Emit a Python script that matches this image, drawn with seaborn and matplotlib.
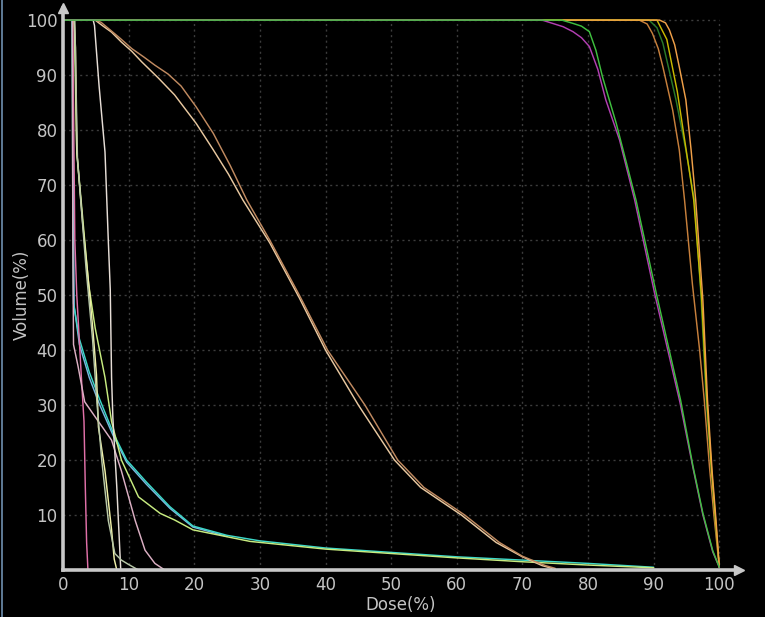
import numpy as np
import pandas as pd
import matplotlib
matplotlib.use("Agg")
import matplotlib.pyplot as plt
from matplotlib.lines import Line2D
import seaborn as sns

# Cumulative dose-volume histogram: dose (% of prescription) vs volume (%)
brown_dose = [0, 4.9, 5.8, 6.9, 8.6, 10.5, 12.3, 14, 16, 18, 20.3, 22.9, 25.5, 28, 31.5, 36, 40.3, 46, 51, 55, 61.2, 66.5, 70, 73.5, 75]
brown_vol = [100, 100, 99.6, 98.5, 96.8, 94.8, 93.3, 91.8, 90.2, 88, 84.2, 79.4, 73.5, 67.3, 60, 50, 40, 30, 20, 15, 10, 5, 2.5, 0.8, 0.3]

tan_dose = [0, 4.9, 6, 7.4, 8.9, 10.5, 12, 14.5, 17, 20.3, 22.9, 25.2, 27.4, 31.5, 36, 40, 45, 50.5, 54.5, 60.7, 66, 70, 73, 74.5]
tan_vol = [100, 100, 99, 97.8, 96, 94.3, 92.4, 89.5, 86.4, 81.2, 76.4, 72, 67.3, 59.5, 49.5, 40, 30, 20, 15, 10, 5, 2.4, 0.8, 0.3]

green_dose = [0, 76, 77.7, 79, 80.2, 81.2, 82.2, 84.3, 87.3, 90.4, 94.1, 96, 97.5, 99, 100]
green_vol = [100, 100, 99.4, 98.9, 97.9, 94.5, 89.7, 81.2, 67.3, 50.3, 30.9, 18.8, 10.3, 3.5, 0.5]

magenta_dose = [0, 73, 74.6, 76.2, 77.7, 79, 80.2, 81.5, 82.7, 84.8, 87.1, 90.2, 94, 96, 97.5, 99, 100]
magenta_vol = [100, 100, 99.4, 98.8, 97.9, 96.8, 95.2, 91, 85.5, 78.2, 67.3, 50, 30.5, 18.5, 10, 3.3, 0.5]

orange1_dose = [0, 87.8, 89, 89.8, 90.7, 91.4, 92.9, 93.9, 94.7, 95.9, 97, 97.7, 98.5, 99.2, 100]
orange1_vol = [100, 100, 99.3, 97.6, 94.8, 91.5, 83.6, 76.4, 67.3, 52, 40, 31, 18.8, 9.7, 0.5]

dkgreen_dose = [0, 89.3, 90.5, 91.4, 93.4, 94.9, 96.2, 97.2, 98, 98.8, 99.4, 100]
dkgreen_vol = [100, 100, 98.6, 95.8, 85.5, 76.4, 67.3, 50, 31, 18, 9, 0.5]

orange2_dose = [0, 90.9, 91.8, 92.4, 93.2, 93.9, 94.9, 95.7, 96.4, 97.5, 98.2, 98.9, 99.5, 100]
orange2_vol = [100, 100, 99.5, 98.2, 95.5, 91.5, 85.5, 76.4, 67.3, 49, 30.9, 18, 9, 0.5]

yellow_dose = [0, 90.5, 92, 93.6, 95, 96.1, 97.3, 98.1, 98.8, 99.4, 100]
yellow_vol = [100, 100, 96.5, 87, 76, 67.3, 49.5, 31, 18.5, 9.5, 0.5]

cyan_dose = [0, 1.4, 1.5, 1.6, 2.5, 4, 5.6, 7.7, 9.7, 12.7, 16.3, 19.8, 25, 30, 40, 50, 60, 70, 80, 90]
cyan_vol = [100, 100, 62, 48.5, 42, 36, 31, 24.8, 20, 16, 11.5, 8, 6.3, 5.3, 4, 3.2, 2.4, 1.8, 1.2, 0.5]

ltblue_dose = [0, 1.4, 1.6, 1.7, 2.5, 4, 5.6, 7.7, 9.7, 12.7, 16.3, 19.8, 25]
ltblue_vol = [100, 100, 62, 48, 41, 35, 30, 24.3, 19.6, 15.6, 11.2, 7.8, 6.1]

ygreen_dose = [0, 1.7, 2.1, 3.9, 4.9, 6.4, 7.4, 8.9, 11.5, 14.8, 17, 19.8, 28.5, 40, 50, 60, 70, 80, 90]
ygreen_vol = [100, 100, 76, 52, 44, 35, 27, 20, 13.3, 10.3, 9.1, 7.3, 5.2, 3.8, 3, 2.2, 1.5, 0.9, 0.4]

pink_dose = [0, 1.5, 1.6, 1.8, 2.1, 2.8, 3.2, 3.4, 3.6, 3.8]
pink_vol = [100, 100, 85, 60, 50, 35, 27, 15, 5, 0]

mauve_dose = [0, 1.4, 1.5, 1.6, 2.3, 3.3, 5.4, 6, 7.4, 8.9, 11, 12.5, 14, 15.5]
mauve_vol = [100, 100, 60, 41, 37, 30.6, 27, 26, 23.6, 18, 9, 3.6, 1.2, 0]

white_dose = [0, 4.6, 4.8, 5.5, 6.4, 6.9, 7.2, 7.4, 7.6, 8.2, 8.6, 8.8]
white_vol = [100, 100, 99, 88, 76, 60, 51, 35, 27.6, 15, 5, 0]

paleyel_dose = [0, 1.7, 1.9, 2.1, 3, 4, 4.6, 5.1, 5.4, 6.4, 7.4, 7.8, 8.2]
paleyel_vol = [100, 100, 95, 76, 63, 51, 43, 35.5, 26, 18, 7.3, 2, 0]

graygrn_dose = [0, 1.8, 2.2, 3.5, 4.5, 5.2, 5.9, 6.9, 7.9, 8.9, 10, 11.5]
graygrn_vol = [100, 100, 75, 55, 42, 30, 20, 9, 3, 1.8, 1, 0]

# drawing order: later entries lie on top
curves = {
    "GTV": (orange1_dose, orange1_vol, "#c8803c"),
    "CTV": (dkgreen_dose, dkgreen_vol, "#2a7a2a"),
    "PTV2": (yellow_dose, yellow_vol, "#c8b800"),
    "PTV3": (orange2_dose, orange2_vol, "#f0a048"),
    "Cord PRV": (ltblue_dose, ltblue_vol, "#78b8e0"),
    "Cord": (cyan_dose, cyan_vol, "#3cd8c8"),
    "Heart": (ygreen_dose, ygreen_vol, "#c8ec80"),
    "Esophagus": (pink_dose, pink_vol, "#e070a8"),
    "Liver": (mauve_dose, mauve_vol, "#dcb0c4"),
    "Trachea": (white_dose, white_vol, "#e6ddd6"),
    "Stomach": (paleyel_dose, paleyel_vol, "#f0f0a8"),
    "Brachial": (graygrn_dose, graygrn_vol, "#b8c8a8"),
    "Lung R": (tan_dose, tan_vol, "#e8c8a0"),
    "Lung L": (brown_dose, brown_vol, "#c08a60"),
    "PTV1": (magenta_dose, magenta_vol, "#b23fb2"),
    "Body": (green_dose, green_vol, "#3fbf3f"),
}

frames = []
for name, (d, v, _) in curves.items():
    frames.append(pd.DataFrame({"dose": d, "volume": v, "structure": name}))
df = pd.concat(frames, ignore_index=True)
palette = {name: c for name, (_, _, c) in curves.items()}

sns.set_theme(style="dark")
plt.rcParams["font.family"] = ["DejaVu Sans"]

fig = plt.figure(figsize=(7.65, 6.17), dpi=100, facecolor="black")
ax = fig.add_axes([63 / 765, 47 / 617, 676 / 765, 562 / 617])
ax.set_facecolor("black")

ax.set_xlim(0, 103)
ax.set_ylim(0, 102.2)

# dotted grid limited to the 0-100 frame
grid_kw = dict(color="#3c3c3c", linestyle=(0, (1.5, 2.5)), linewidth=1.0, zorder=0)
ax.hlines(np.arange(10, 101, 10), 0, 100, **grid_kw)
ax.vlines(np.arange(10, 101, 10), 0, 100, **grid_kw)

sns.lineplot(data=df, x="dose", y="volume", hue="structure", palette=palette,
             hue_order=list(curves.keys()),
             estimator=None, sort=False, legend=False, linewidth=1.05, ax=ax)

ax.set_xticks(np.arange(0, 101, 10))
ax.set_yticks(np.arange(10, 101, 10))
ax.tick_params(axis="both", colors="#c4c4c4", labelsize=12, length=0, pad=4)
ax.set_xlabel("Dose(%)", color="#c4c4c4", fontsize=12, labelpad=2)
ax.set_ylabel("Volume(%)", color="#c4c4c4", fontsize=12)
ax.yaxis.set_label_coords(-0.048, 0.49)

for side in ["top", "right"]:
    ax.spines[side].set_visible(False)
for side in ["left", "bottom"]:
    ax.spines[side].set_color("#c8c8c8")
    ax.spines[side].set_linewidth(2.6)

# arrow heads at the axis ends
ax.plot(1, 0, ">", color="#c8c8c8", markersize=7, transform=ax.transAxes, clip_on=False)
ax.plot(0, 1, "^", color="#c8c8c8", markersize=7, transform=ax.transAxes, clip_on=False)
ax.grid(False)

# thin window edge on the left
fig.add_artist(Line2D([0.0025, 0.0025], [0, 1], color="#6f8fb0", linewidth=1.2))

fig.savefig("out.png", dpi=100, facecolor="black")
